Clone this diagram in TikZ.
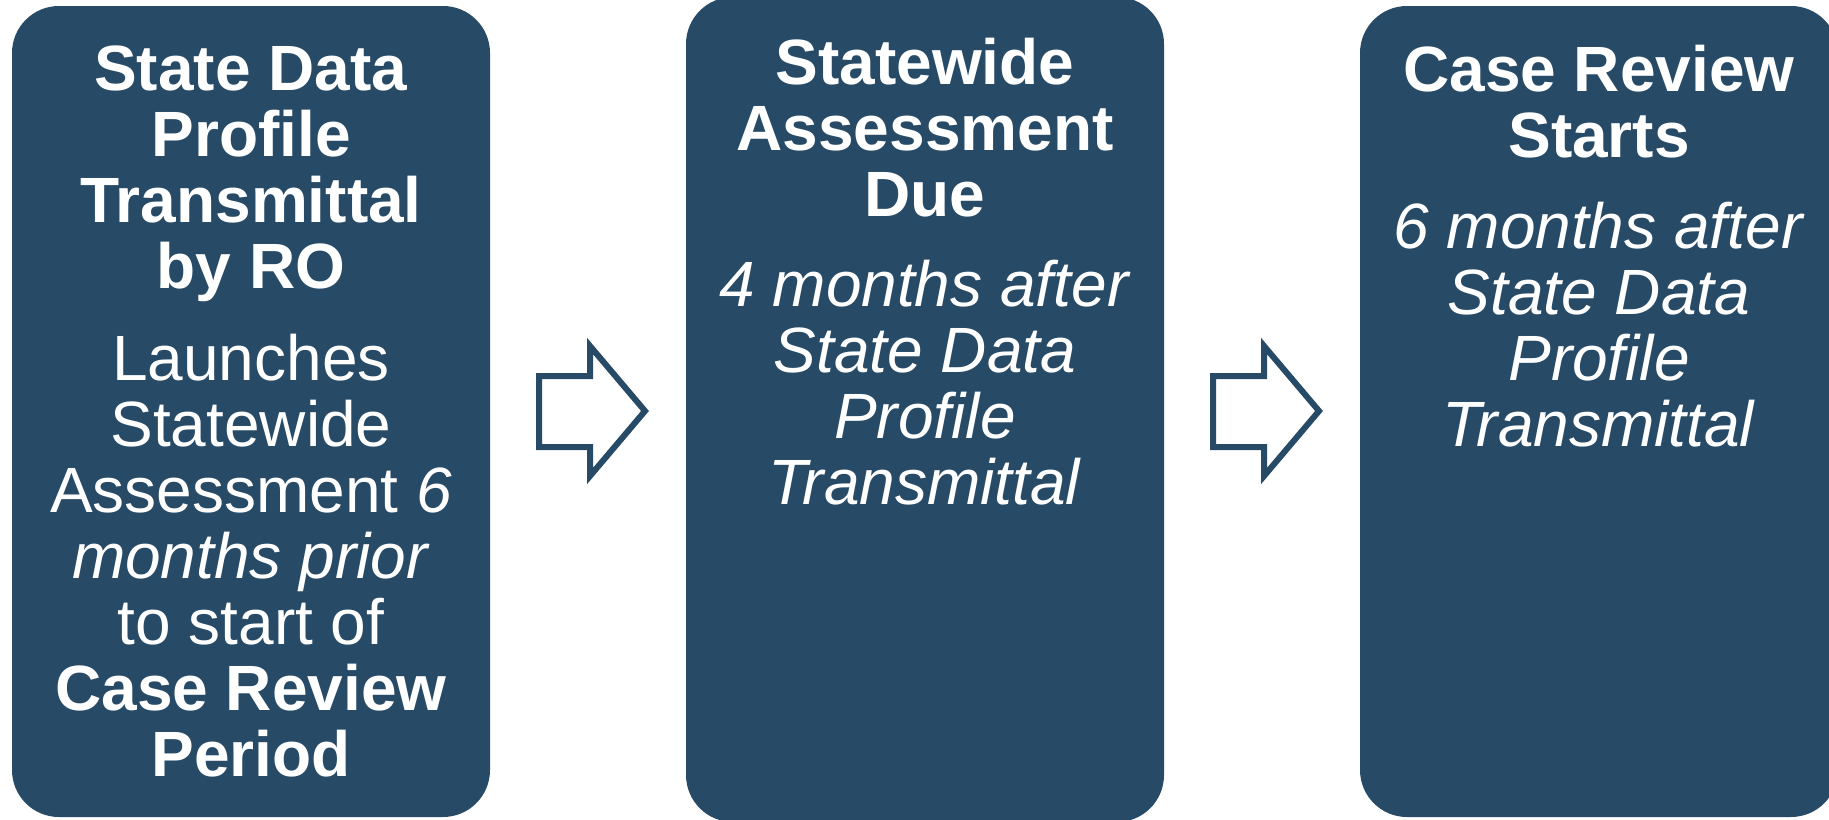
\documentclass[tikz,border=0pt]{standalone}
\usepackage{fontspec}
\setmainfont{Liberation Sans}
\usepackage{tikz}
\usetikzlibrary{positioning}
\definecolor{slate}{RGB}{39,74,102}
\tikzset{
    flow/.style={x=0.5pt,y=-0.5pt},
    stage/.style={rectangle, rounded corners=23.5pt, fill=slate, draw=none,
                  minimum width=239pt, minimum height=405.5pt, inner sep=0pt},
    tall/.style={stage, minimum height=412.5pt},
    caption/.style={text=white, align=center, anchor=north, inner sep=0pt,
                    font=\fontsize{32}{33}\selectfont},
    pointer/.style={draw=slate, line width=3pt, fill=white, line join=miter},
    }
\begin{document}
\begin{tikzpicture}[flow]
            \clip (0,0) rectangle (1829,819);
            \useasboundingbox (0,0) rectangle (1829,819);

            \node[stage] (ro) at (251,411.5) {};
            \node[tall] (due) at (925,409.5) {};
            \node[stage] (crs) at (1599,411.5) {};

            \node[caption] (rotext) at (251,45) {\textbf{State Data}\\\textbf{Profile}\\\textbf{Transmittal}\\\textbf{by RO}\\[13pt]
                Launches\\Statewide\\Assessment \textit{6}\\\textit{months prior}\\to start of\\\textbf{Case Review}\\\textbf{Period}};
            \node[caption] (duetext) at (925,38) {\textbf{Statewide}\\\textbf{Assessment}\\\textbf{Due}\\[12pt]
                \textit{4 months after}\\\textit{State Data}\\\textit{Profile}\\\textit{Transmittal}};
            \node[caption] (crstext) at (1599,45) {\textbf{Case Review}\\\textbf{Starts}\\[12.5pt]
                \textit{6 months after}\\\textit{State Data}\\\textit{Profile}\\\textit{Transmittal}};

            % block arrows between the stages
            \foreach \dx in {0,674}
                \draw[pointer] (539+\dx,376) -- (590+\dx,376) -- (590+\dx,346) -- (645+\dx,411)
                    -- (590+\dx,476) -- (590+\dx,447) -- (539+\dx,447) -- cycle;
        \end{tikzpicture}
\end{document}
